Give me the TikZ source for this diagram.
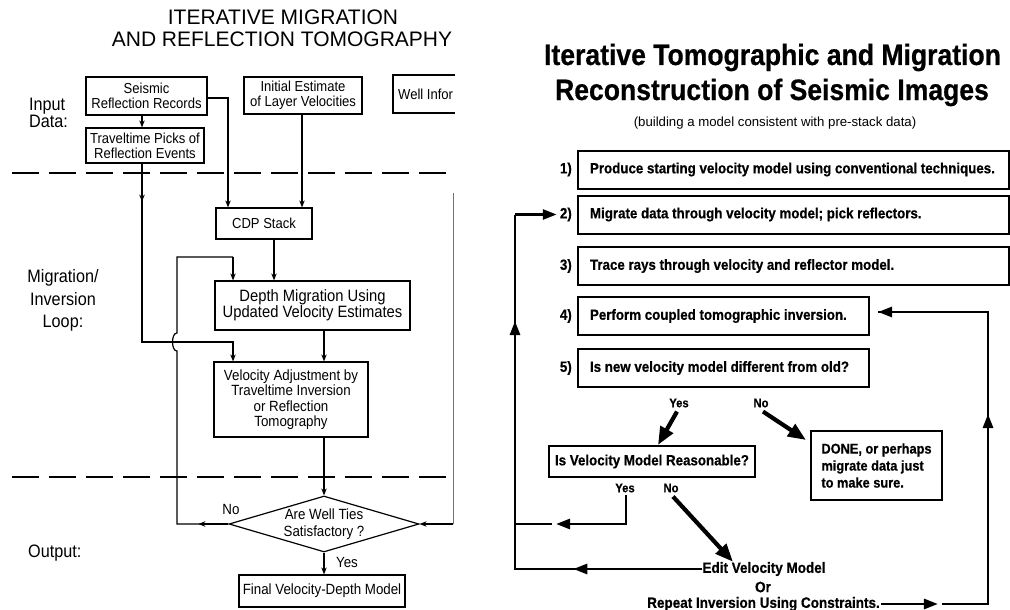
\documentclass[tikz,border=0pt]{standalone}
\usepackage{fontspec}
\setmainfont{Liberation Sans}
\newfontfamily\nar[FakeStretch=0.9]{Liberation Sans}
\newfontfamily\narh[FakeStretch=0.9,FakeBold=0.6]{Liberation Sans}
\usetikzlibrary{arrows.meta,shapes.geometric,calc}
\begin{document}
\begin{tikzpicture}[x=1pt,y=-1pt,
  ll/.style={line width=1.2pt},
  la/.style={line width=1.2pt,-{Stealth[length=7pt,width=5.5pt]}},
  lbox/.style={draw,line width=1.2pt,inner sep=0pt,align=center,font=\fontsize{14.5}{15}\nar},
  ltxt/.style={inner sep=0pt,align=left,font=\fontsize{18}{16}\nar},
  dashline/.style={line width=2.6pt,dash pattern=on 27pt off 10pt},
  rl/.style={line width=2.8pt},
  ra/.style={line width=2.8pt,-{Triangle[length=14pt,width=10pt]}},
  rbig/.style={line width=4.2pt,-{Triangle[length=18pt,width=14pt]}},
  rbox/.style={draw,line width=2pt,inner xsep=12pt,inner ysep=0pt,minimum height=38pt,anchor=west,font=\fontsize{14.8}{17}\narh\bfseries},
  rtxt/.style={inner sep=0pt,font=\fontsize{14.8}{17}\narh\bfseries},
  rsmall/.style={inner sep=0pt,font=\fontsize{12.5}{14}\narh\bfseries},
]
\useasboundingbox (0,0) rectangle (1010,610);

% ---------------- left panel ----------------
\node[anchor=base,inner sep=0pt,font=\fontsize{21}{22}\selectfont] (lt1) at (283,25) {ITERATIVE MIGRATION};
\node[anchor=base,inner sep=0pt,font=\fontsize{21}{22}\selectfont] (lt2) at (282,46.5) {AND REFLECTION TOMOGRAPHY};

\node[lbox,minimum width=121pt,minimum height=38pt] (seis) at (146.5,96) {Seismic\\Reflection Records};
\node[lbox,minimum width=118pt,minimum height=35pt] (trav) at (145,145.5) {Traveltime Picks of\\Reflection Events};
\node[lbox,minimum width=118pt,minimum height=37pt] (init) at (303,95.5) {Initial Estimate\\of Layer Velocities};
\node[inner sep=0pt,anchor=west,font=\fontsize{14.5}{15}\nar] (well) at (398,94) {Well Infor};
\draw[ll] (455,75) -- (393,75) -- (393,113) -- (455,113);
\node[lbox,minimum width=96pt,minimum height=31pt] (cdp) at (264,223.5) {CDP Stack};
\node[lbox,minimum width=195pt,minimum height=49pt,font=\fontsize{16.4}{16.5}\nar] (depth) at (312.5,305.5) {Depth Migration Using\\Updated Velocity Estimates};
\node[lbox,minimum width=154pt,minimum height=75pt,font=\fontsize{14.8}{15.5}\nar] (vel) at (291,399.5) {Velocity Adjustment by\\Traveltime Inversion\\or Reflection\\Tomography};
\node[lbox,diamond,minimum width=190pt,minimum height=56pt,aspect=3.4,font=\fontsize{14.8}{17}\nar] (dia) at (324,524) {Are Well Ties\\Satisfactory ?};
\node[lbox,minimum width=166pt,minimum height=32pt,font=\fontsize{14.8}{15}\nar] (final) at (322,591) {Final Velocity-Depth Model};

\node[ltxt,anchor=west] (inp) at (29,112.5) {Input\\Data:};
\node[inner sep=0pt,align=center,font=\fontsize{18}{22.5}\nar] (mig) at (63,300.5) {Migration/\\Inversion\\Loop:};
\node[ltxt,anchor=west] (out) at (28,553) {Output:};
\node[inner sep=0pt,font=\fontsize{14.8}{15}\nar] (lno) at (231,509) {No};
\node[inner sep=0pt,font=\fontsize{14.8}{15}\nar] (lyes) at (347,562) {Yes};

\draw[dashline] (12,173) -- (456,173);
\draw[dashline] (12,477) -- (456,477);

\draw[la] ([xshift=-4.5pt]seis.south) -- ([xshift=-3pt]trav.north);
\coordinate (jA) at (233,342);
\draw[la] ([xshift=-3pt]trav.south) |- (jA) -- (jA |- vel.north);
\draw[la] ([xshift=-3pt]trav.south) -- ++(0,38);
\draw[la] ([yshift=-2pt]seis.east) -| ([xshift=-36pt]cdp.north);
\draw[la] ([xshift=-1pt]init.south) -- ([xshift=38pt]cdp.north);
\draw[la] ([xshift=10pt]cdp.south) -- ([xshift=10pt]cdp.south |- depth.north);
\draw[la] ([xshift=11.5pt]depth.south) -- ([xshift=11.5pt]depth.south |- vel.north);
\draw[la] (dia.north |- vel.south) -- (dia.north);
\draw[la] (dia.south) -- (dia.south |- final.north);

\coordinate (lp1) at (177,524);
\coordinate (lp2) at (177,257);
\coordinate (lp3) at (233,257);
\draw[la] (dia.west) -- ++(-30,0);
\draw[ll] (dia.west) -- (lp1) -- (177,351) .. controls (171,351) and (171,333) .. (177,333) -- (lp2) -- (lp3);
\draw[la] (lp3) -- (lp3 |- depth.north);

\coordinate (rr1) at (453,193);
\coordinate (rr2) at (453,524);
\draw[line width=0.8pt,black!55] (rr1) -- (rr2);
\draw[la] (rr2) -- (dia.east);

% ---------------- right panel ----------------
\node[anchor=base,inner sep=0pt,font=\fontsize{29.5}{35}\narh\bfseries] (rt1) at (772.5,65) {Iterative Tomographic and Migration};
\node[anchor=base,inner sep=0pt,font=\fontsize{29.5}{35}\narh\bfseries] (rt2) at (772,100) {Reconstruction of Seismic Images};
\node[anchor=base,inner sep=0pt,font=\fontsize{13.2}{15}\selectfont] (sub) at (775,126) {(building a model consistent with pre-stack data)};

\node[rbox] (b1) at (577,169.5) {\makebox[407pt][l]{Produce starting velocity model using conventional techniques.}};
\node[rbox] (b2) at (577,214.5) {\makebox[407pt][l]{Migrate data through velocity model; pick reflectors.}};
\node[rbox] (b3) at (577,266) {\makebox[407pt][l]{Trace rays through velocity and reflector model.}};
\node[rbox] (b4) at (577,316) {\makebox[267pt][l]{Perform coupled tomographic inversion.}};
\node[rbox] (b5) at (577,368) {\makebox[267pt][l]{Is new velocity model different from old?}};
\node[rtxt,anchor=east] (n1) at (572,169.5) {1)};
\node[rtxt,anchor=east] (n2) at (572,214.5) {2)};
\node[rtxt,anchor=east] (n3) at (572,266) {3)};
\node[rtxt,anchor=east] (n4) at (572,316) {4)};
\node[rtxt,anchor=east] (n5) at (572,368) {5)};

\node[rsmall] (y1) at (679,403) {Yes};
\node[rsmall] (no1) at (761,403) {No};
\node[draw,line width=2pt,minimum width=206pt,minimum height=31pt,inner sep=0pt,font=\fontsize{14.8}{17}\narh\bfseries] (rq) at (652,461.5) {Is Velocity Model Reasonable?};
\node[draw,line width=2pt,minimum width=131pt,minimum height=69pt,align=left,inner sep=0pt,font=\fontsize{14.2}{17}\narh\bfseries] (done) at (876.5,465.5) {DONE, or perhaps\\migrate data just\\to make sure.};
\node[rsmall] (y2) at (625,488) {Yes};
\node[rsmall] (no2) at (671,488) {No};
\node[rtxt,font=\fontsize{15}{18}\narh\bfseries] (e1) at (764,569) {Edit Velocity Model};
\node[rtxt,font=\fontsize{15}{18}\narh\bfseries] (e2) at (763,587) {Or};
\node[rtxt,font=\fontsize{15}{18}\narh\bfseries] (e3) at (763.5,604) {Repeat Inversion Using Constraints.};

\draw[rbig] ([xshift=-2pt,yshift=-4pt]y1.south) -- ([xshift=6pt]rq.north);
\draw[rbig] ([xshift=2pt,yshift=-4pt]no1.south) -- ([xshift=-4pt,yshift=-10pt]done.north west);
\draw[rbig] ([xshift=2pt,yshift=-4pt]no2.south) -- ([xshift=-31pt]e1.north);

\coordinate (cL2) at (515,214.5);
\coordinate (cLy) at (515,524);
\draw[ra] ([xshift=1pt,yshift=-2pt]y2.south) |- (556,524);
\draw[rl] (552,524) -- (cLy);
\draw[rl] (e1.west) -- (e1.west -| cL2) -- (cL2);
\draw[ra] (e1.west) -- ($(e1.west)+(-129,0)$);
\draw[ra] (e1.west -| cL2) -- ++(0,-248);
\draw[ra] (cL2) -- ([xshift=-3pt]n2.west);

\coordinate (cRt) at (988,312);
\draw[ra] ([xshift=1pt]e3.east) -- ++(57,0);
\draw[rl] ([xshift=62pt]e3.east) -| (cRt) -- ([yshift=4pt,xshift=8pt]b4.east);
\draw[ra] (e3.east -| cRt) -- ++(0,-190);
\draw[ra] (cRt) -- ([yshift=4pt,xshift=8pt]b4.east);
\end{tikzpicture}
\end{document}
